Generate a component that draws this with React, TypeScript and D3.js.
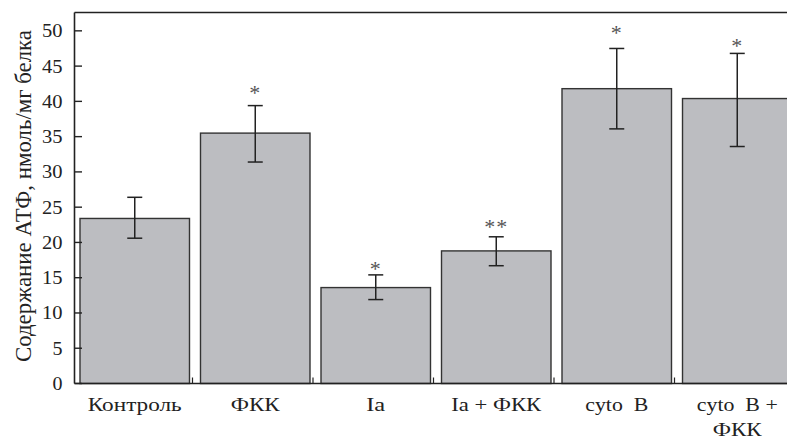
import React from "react";
import * as d3 from "d3";

const categories = ["Контроль", "ФКК", "Ia", "Ia + ФКК", "cyto B", "cyto B + ФКК"];
const labelLines = [["Контроль"], ["ФКК"], ["Ia"], ["Ia + ФКК"], ["cyto  B"], ["cyto  B +", "ФКК"]];
const labelWidths = [[94], [49], [19], [90], [63], [81, 49]];
const means = [23.4, 35.5, 13.6, 18.8, 41.8, 40.4];
const errHigh = [26.4, 39.4, 15.4, 20.8, 47.5, 46.8];
const errLow = [20.6, 31.4, 11.9, 16.7, 36.1, 33.6];
const stars = ["", "*", "*", "**", "*", "*"];
const starLevel = [0, 41.8, 16.9, 22.8, 50.4, 48.5];
const yTicks = [0, 5, 10, 15, 20, 25, 30, 35, 40, 45, 50];
const yTitle = "Содержание АТФ, нмоль/мг белка";

const W = 787;
const H = 439;
const FONT = "Liberation Serif";
const INK = "#222";

export default function App() {
  const left = 74.5;
  const top = 12.5;
  const bottom = 383.5;

  const y = d3.scaleLinear().domain([0, 52.6]).range([bottom, top]);
  const x = d3
    .scaleBand<string>()
    .domain(categories)
    .range([left, left + 723])
    .paddingInner(0.0913)
    .paddingOuter(0.0456);
  const bw = x.bandwidth();

  const txt = { fontFamily: FONT, whiteSpace: "pre" as const };

  return (
    <svg
      width={W}
      height={H}
      style={{ position: "absolute", left: 0, top: 0, background: "#fff" }}
    >
      {/* bars */}
      {categories.map((c, i) => (
        <rect
          key={c}
          x={x(c)}
          y={y(means[i])}
          width={bw}
          height={bottom - y(means[i])}
          fill="#bcbdc1"
          stroke="#333"
          strokeWidth={1.4}
        />
      ))}

      {/* error bars */}
      {categories.map((c, i) => {
        const cx = (x(c) ?? 0) + bw / 2;
        return (
          <g key={c} stroke={INK} strokeWidth={1.5}>
            <line x1={cx} x2={cx} y1={y(errHigh[i])} y2={y(errLow[i])} />
            <line x1={cx - 7.5} x2={cx + 7.5} y1={y(errHigh[i])} y2={y(errHigh[i])} />
            <line x1={cx - 7.5} x2={cx + 7.5} y1={y(errLow[i])} y2={y(errLow[i])} />
          </g>
        );
      })}

      {/* significance stars */}
      {categories.map((c, i) =>
        stars[i] ? (
          <text
            key={c}
            x={(x(c) ?? 0) + bw / 2}
            y={y(starLevel[i]) + 11.5}
            textAnchor="middle"
            fontSize={22}
            fill="#555"
            style={txt}
            letterSpacing={1}
          >
            {stars[i]}
          </text>
        ) : null
      )}

      {/* frame */}
      <g stroke={INK} strokeWidth={1.6} fill="none">
        <line x1={left} x2={left} y1={top} y2={bottom} />
        <line x1={left} x2={W} y1={top} y2={top} />
        <line x1={left} x2={W} y1={bottom} y2={bottom} />
      </g>

      {/* y ticks */}
      {yTicks.map((t) => (
        <g key={t}>
          <line x1={left} x2={left + 7.5} y1={y(t)} y2={y(t)} stroke={INK} strokeWidth={1.4} />
          <text
            x={62.5}
            y={y(t) + 6.5}
            textAnchor="end"
            fontSize={19}
            fill={INK}
            style={txt}
            textLength={t < 10 ? 10 : 20.5}
            lengthAdjust="spacingAndGlyphs"
          >
            {t}
          </text>
        </g>
      ))}

      {/* separators on x axis */}
      {categories.slice(0, -1).map((c) => {
        const sx = (x(c) ?? 0) + bw + 3;
        return <line key={c} x1={sx} x2={sx} y1={bottom} y2={bottom - 6} stroke={INK} strokeWidth={1.2} />;
      })}

      {/* x labels */}
      {categories.map((c, i) => {
        const cx = (x(c) ?? 0) + bw / 2;
        return labelLines[i].map((ln, j) => (
          <text
            key={c + j}
            x={cx}
            y={411 + j * 25}
            textAnchor="middle"
            fontSize={18}
            fill={INK}
            style={txt}
            textLength={labelWidths[i][j]}
            lengthAdjust="spacingAndGlyphs"
          >
            {ln}
          </text>
        ));
      })}

      {/* y title */}
      <text
        transform="translate(31,196) rotate(-90)"
        textAnchor="middle"
        fontSize={24}
        fill={INK}
        style={txt}
        textLength={332}
        lengthAdjust="spacingAndGlyphs"
      >
        {yTitle}
      </text>
    </svg>
  );
}
